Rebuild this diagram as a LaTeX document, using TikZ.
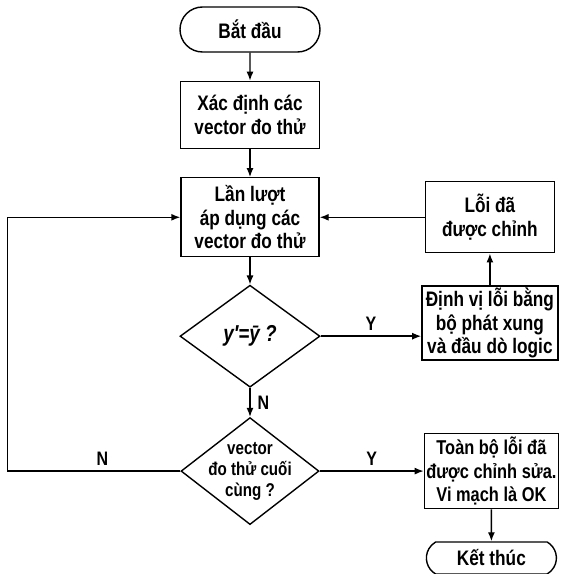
\documentclass[tikz,border=0pt]{standalone}
\usepackage{fontspec}
\setmainfont{Liberation Sans}[FakeStretch=0.82]
\usetikzlibrary{positioning, arrows.meta, shapes.geometric, shapes.misc}

\begin{document}
\begin{tikzpicture}[
  x=1pt, y=1pt,
  every node/.style={font=\bfseries\fontsize{21}{23.5}\selectfont},
  box/.style={rectangle, draw, line width=1.4pt, align=center, inner sep=0pt},
  term/.style={rounded rectangle, draw, line width=1.4pt, inner sep=0pt},
  decision/.style={diamond, draw, line width=1.4pt, inner sep=0pt, align=center},
  edge/.style={-{Latex[length=9pt,width=7pt]}, line width=1.4pt},
  yn/.style={font=\bfseries\fontsize{19.5}{21}\selectfont, inner sep=1pt},
  node distance=28pt and 105pt,
]
\useasboundingbox (0,0) rectangle (563,574);

% main column
\node[term, minimum width=140pt, minimum height=45pt] (start) at (250,544.5) {Bắt đầu};
\node[box, below=of start, minimum width=139pt, minimum height=67pt] (define)
  {Xác định các\\vector đo thử};
\node[box, below=of define, minimum width=138pt, minimum height=79pt] (apply)
  {Lần lượt\\áp dụng các\\vector đo thử};
\node[decision, below=27pt of apply, minimum width=140pt, minimum height=102pt,
  font=\bfseries\itshape\fontsize{23}{25}\selectfont] (check)
  {y′=ȳ ?};
\node[decision, below=29pt of check, minimum width=138pt, minimum height=107pt,
  label={[align=center, font=\bfseries\fontsize{18.5}{21}\selectfont]center:{vector\\đo thử cuối\\cùng ?}}] (lastvec) {};

% right column
\node[box, right=of apply, minimum width=129pt, minimum height=71pt] (fixed)
  {Lỗi đã\\được chỉnh};
\node[box, below=32pt of fixed, minimum width=136pt, minimum height=74pt] (locate)
  {Định vị lỗi bằng\\bộ phát xung\\và đầu dò logic};
\node[box, right=104pt of lastvec, minimum width=134pt, minimum height=75pt,
  font=\bfseries\fontsize{20}{23.5}\selectfont] (done)
  {Toàn bộ lỗi đã\\được chỉnh sửa.\\Vi mạch là OK};
\node[term, below=32pt of done, minimum width=130pt, minimum height=32pt,
  rounded rectangle arc length=120] (finish) {Kết thúc};

% connectors
\draw[edge] (start) -- (define);
\draw[edge] (define) -- (apply);
\draw[edge] (apply) -- (check);
\draw[edge] (check) -- node[yn, right=6pt] {N} (lastvec);
\draw[edge] (check.east) -- node[yn, above=4pt] {Y} (check.east -| locate.west);
\draw[edge] (locate) -- (fixed);
\draw[edge] (fixed.west) -- (fixed.west -| apply.east);
\draw[edge] (lastvec.east) -- node[yn, above=4pt] {Y} (done.west);
\draw[edge] (done) -- (finish);
\draw[edge] (lastvec.west) -- node[yn, above=4pt, pos=0.45] {N} ++(-173,0) |- (apply.west);
\end{tikzpicture}
\end{document}
